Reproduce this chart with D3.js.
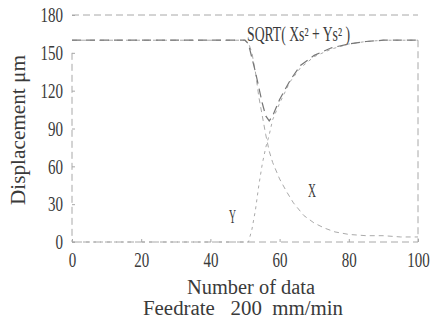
<!DOCTYPE html>
<html>
<head>
<meta charset="utf-8">
<script src="https://cdn.jsdelivr.net/npm/d3@7"></script>
<style>
  body { margin: 0; background: #fff; }
  text { font-family: "Liberation Serif", "DejaVu Serif", serif; fill: #3a3a3a; }
</style>
</head>
<body>
<svg id="chart" width="433" height="320"></svg>
<script>
// values
const xTicks = [0, 20, 40, 60, 80, 100];
const yTicks = [0, 30, 60, 90, 120, 150, 180];

const sqrtIdx = [0, 50, 51, 53, 55, 56, 57, 58, 60, 63, 66, 70, 75, 80, 85, 90, 100];
const sqrtVal = [160, 160, 157, 135, 110, 100, 96, 100, 113, 128, 140, 148, 154, 157, 159, 160, 160];

const xIdx = [0, 50, 51, 52, 53, 54, 55, 56, 57, 58, 60, 62, 64, 67, 70, 73, 76, 80, 85, 90, 95, 100];
const xVal = [160, 160, 158, 150, 135, 115, 100, 85, 72, 63, 50, 40, 31, 21, 15, 11, 8, 6, 5, 5, 4, 4];

const yIdx = [0, 51, 52, 53, 54, 55, 56, 57, 58, 60, 63, 66, 70, 75, 80, 85, 90, 100];
const yVal = [0, 0, 10, 25, 45, 62, 75, 85, 97, 110, 127, 138, 147, 153, 157, 159, 160, 160];

const svg = d3.select('#chart');
const mLeft = 72, mRight = 418, mTop = 15, mBottom = 242;

const x = d3.scaleLinear().domain([0, 100]).range([mLeft, mRight]);
const y = d3.scaleLinear().domain([0, 180]).range([mBottom, mTop]);

// frame (dashed, like the faded scan)
const frame = svg.append('g')
  .attr('stroke', '#a8a8a8')
  .attr('stroke-width', 1)
  .attr('stroke-dasharray', '7,4');
frame.append('line').attr('x1', mLeft).attr('x2', mRight).attr('y1', mTop).attr('y2', mTop);
frame.append('line').attr('x1', mLeft).attr('x2', mRight).attr('y1', mBottom).attr('y2', mBottom);
frame.append('line').attr('x1', mLeft).attr('x2', mLeft).attr('y1', y(150)).attr('y2', mBottom);
frame.append('line').attr('x1', mRight).attr('x2', mRight).attr('y1', y(160)).attr('y2', mBottom);

// axes, ticks pointing inward
const xAxis = svg.append('g')
  .attr('transform', 'translate(0,' + mBottom + ')')
  .call(d3.axisBottom(x).tickValues(xTicks).tickSize(-3).tickPadding(9));
const yAxis = svg.append('g')
  .attr('transform', 'translate(' + mLeft + ',0)')
  .call(d3.axisLeft(y).tickValues(yTicks).tickSize(-3).tickPadding(9));

// tall, narrow digits like the original typeset figure
[xAxis, yAxis].forEach(a => {
  a.select('.domain').remove();
  a.selectAll('.tick line').attr('stroke', '#a8a8a8');
  a.selectAll('.tick text')
    .attr('font-size', 20)
    .attr('fill', '#3a3a3a')
    .style('font-family', '"Liberation Serif", serif')
    .attr('transform', 'scale(0.75,1)');
});
xAxis.selectAll('.tick text').attr('dy', '0.8em');
yAxis.selectAll('.tick text').attr('dy', '0.34em').attr('x', -12);

// series
function drawLine(idx, vals, color, width, dash) {
  const pts = idx.map((d, i) => [d, vals[i]]);
  svg.append('path')
    .datum(pts)
    .attr('fill', 'none')
    .attr('stroke', color)
    .attr('stroke-width', width)
    .attr('stroke-dasharray', dash)
    .attr('d', d3.line().x(d => x(d[0])).y(d => y(d[1])));
}

drawLine(xIdx, xVal, '#aaa', 1, '5,4');
drawLine(yIdx, yVal, '#aaa', 1, '3,4');
drawLine(sqrtIdx, sqrtVal, '#777', 1.2, '9,5');

// series labels
function label(tx, ty, str, size, len) {
  const t = svg.append('text').attr('x', tx).attr('y', ty)
    .attr('font-size', size).text(str);
  if (len) t.attr('textLength', len).attr('lengthAdjust', 'spacingAndGlyphs');
  return t;
}
label(247, 41, 'SQRT( Xs² + Ys² )', 20, 103);
label(229, 223, 'Y', 18, 7);
label(308, 197, 'X', 18, 8);

// axis titles
svg.append('text')
  .attr('text-anchor', 'middle')
  .attr('transform', 'translate(25,130) rotate(-90)')
  .attr('font-size', 20)
  .attr('textLength', 150)
  .attr('lengthAdjust', 'spacingAndGlyphs')
  .text('Displacement  μm');

label(187, 294, 'Number  of  data', 20, 128);
label(143, 315, 'Feedrate   200  mm/min', 20, 200).attr('xml:space', 'preserve');
</script>
</body>
</html>
